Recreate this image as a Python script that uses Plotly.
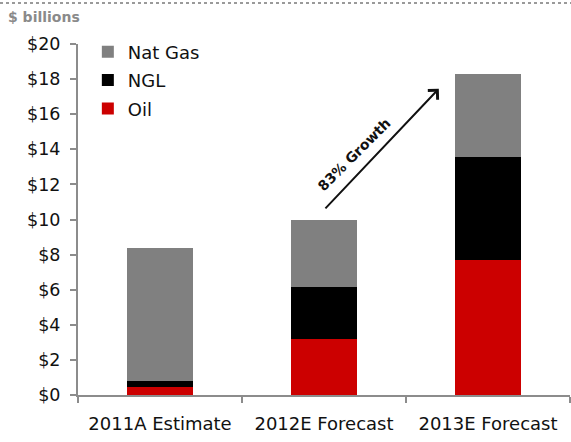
import plotly.graph_objects as go

categories = ["2011A Estimate", "2012E Forecast", "2013E Forecast"]
oil = [0.47, 3.19, 7.69]
ngl = [0.31, 2.96, 5.85]
nat_gas = [7.58, 3.85, 4.76]
y_tick_vals = [0, 2, 4, 6, 8, 10, 12, 14, 16, 18, 20]
y_tick_text = ["$0", "$2", "$4", "$6", "$8", "$10", "$12", "$14", "$16", "$18", "$20"]
arrow_from = (1.0, 10.55)
arrow_to = (1.7, 17.45)
growth_label = "83% Growth"
growth_pos = (1.18, 13.7)

FONT = "DejaVu Sans"

fig = go.Figure()
fig.add_trace(go.Bar(x=categories, y=oil, name="Oil", marker_color="#CC0000",
                     marker_line_width=0, legendgroup="c", legendrank=3))
fig.add_trace(go.Bar(x=categories, y=ngl, name="NGL", marker_color="#000000",
                     marker_line_width=0, legendgroup="b", legendrank=2))
fig.add_trace(go.Bar(x=categories, y=nat_gas, name="Nat Gas", marker_color="#808080",
                     marker_line_width=0, legendgroup="a", legendrank=1))

fig.update_layout(
    width=571, height=442,
    margin=dict(l=78, r=1, t=44, b=47),
    barmode="stack", bargap=0.6,
    paper_bgcolor="white", plot_bgcolor="white",
    font=dict(family=FONT, size=18, color="#111111"),
    showlegend=True,
    legend=dict(x=0.02, y=1.03, xanchor="left", yanchor="top",
                traceorder="grouped", tracegroupgap=2,
                font=dict(family=FONT, size=18, color="#111111"),
                bgcolor="rgba(0,0,0,0)", borderwidth=0),
    xaxis=dict(type="category", showline=True, linecolor="#8c8c8c", linewidth=2,
               ticks="outside", ticklen=6, tickwidth=2, tickcolor="#8c8c8c",
               tickson="boundaries", showgrid=False, zeroline=False,
               ticklabelstandoff=11,
               tickfont=dict(family=FONT, size=18, color="#111111")),
    yaxis=dict(range=[0, 20], tickvals=y_tick_vals, ticktext=y_tick_text,
               showline=True, linecolor="#8c8c8c", linewidth=2,
               ticks="outside", ticklen=6, tickwidth=2, tickcolor="#8c8c8c",
               showgrid=False, zeroline=False, ticklabelstandoff=6,
               tickfont=dict(family=FONT, size=17.5, color="#111111")),
)

# dotted top rule
fig.add_shape(type="line", xref="paper", yref="paper",
              x0=-78/492, x1=1 + 1/492, y0=1 + 41/351, y1=1 + 41/351,
              line=dict(color="#9a9a9a", width=2, dash="dot"))

# units label
fig.add_annotation(text="<b>$ billions</b>", xref="paper", yref="paper",
                   x=-72/492, y=1 + 27/351, xanchor="left", yanchor="middle",
                   showarrow=False,
                   font=dict(family=FONT, size=14, color="#8a8a8a"))

# growth arrow
fig.add_annotation(x=arrow_to[0], y=arrow_to[1], ax=arrow_from[0], ay=arrow_from[1],
                   xref="x", yref="y", axref="x", ayref="y",
                   text="", showarrow=True, arrowhead=4, arrowsize=1.3,
                   arrowwidth=2, arrowcolor="#111111")
fig.add_annotation(x=growth_pos[0], y=growth_pos[1], xref="x", yref="y",
                   text="<b>" + growth_label + "</b>", showarrow=False, textangle=-45,
                   font=dict(family=FONT, size=14, color="#111111"))

fig.write_html("out.html")
